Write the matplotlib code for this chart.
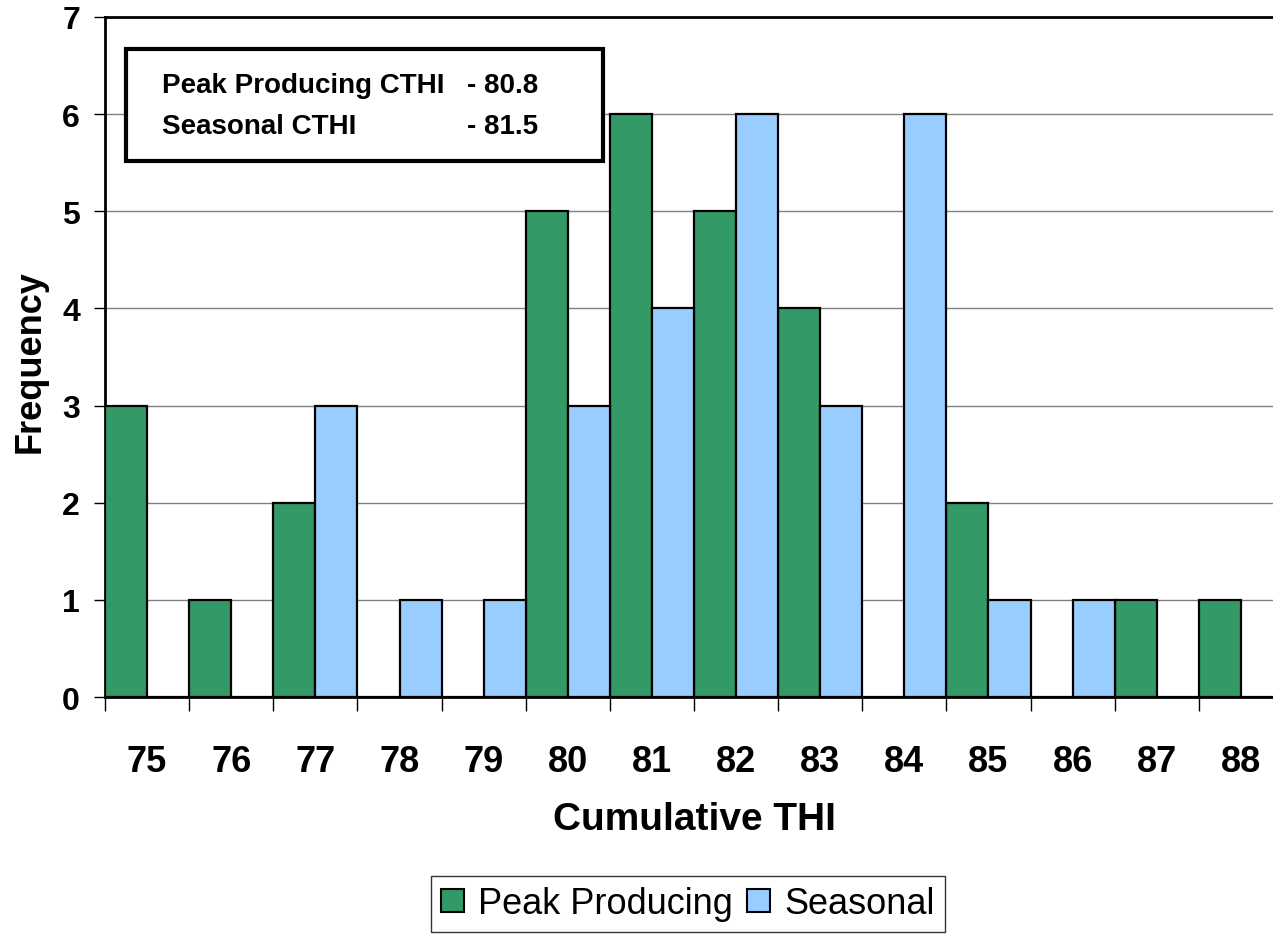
import numpy as np
import matplotlib.pyplot as plt
from matplotlib.patches import Rectangle, Patch

# Frequency of cumulative THI values for the two herd groups
thi_values = [75, 76, 77, 78, 79, 80, 81, 82, 83, 84, 85, 86, 87, 88]
peak_producing = [3, 1, 2, 0, 0, 5, 6, 5, 4, 0, 2, 0, 1, 1]
seasonal = [0, 0, 3, 1, 1, 3, 4, 6, 3, 6, 1, 1, 0, 0]
peak_cthi = 80.8
seasonal_cthi = 81.5

plt.rcParams['font.family'] = ['Liberation Sans', 'DejaVu Sans']

W, H = 1273, 937
fig = plt.figure(figsize=(W / 100, H / 100), dpi=100)
# plot area runs a little past the right edge of the figure
ax = fig.add_axes([105 / W, 1 - 698 / H, (1283 - 105) / W, (698 - 18) / H])

x = np.arange(len(thi_values))
ax.bar(x - 0.25, peak_producing, width=0.5, color='#339966',
       edgecolor='black', linewidth=1.6, zorder=3, label='Peak Producing')
ax.bar(x + 0.25, seasonal, width=0.5, color='#99CCFF',
       edgecolor='black', linewidth=1.6, zorder=3, label='Seasonal')

ax.set_xlim(-0.5, len(thi_values) - 0.5)
ax.set_ylim(0, 7)

# labels sit under the category centres, tick marks on the boundaries
ax.set_xticks(x)
ax.set_xticklabels([str(v) for v in thi_values], fontsize=26, fontweight='bold')
ax.tick_params(axis='x', which='major', length=0, pad=34)
ax.set_xticks(np.arange(len(thi_values) + 1) - 0.5, minor=True)
ax.tick_params(axis='x', which='minor', length=10, width=1, color='black',
               direction='out')

ax.set_yticks(range(8))
ax.set_yticklabels([str(v) for v in range(8)], fontsize=23, fontweight='bold')
ax.tick_params(axis='y', length=8, width=1, color='black', pad=10)

ax.grid(axis='y', color='#808080', linewidth=1, zorder=0)
ax.set_axisbelow(True)

for side in ['left', 'bottom', 'top']:
    ax.spines[side].set_linewidth(2)
    ax.spines[side].set_color('black')
ax.spines['right'].set_visible(False)

ax.set_xlabel('Cumulative THI', fontsize=28, fontweight='bold')
ax.xaxis.set_label_coords(0.5, -(820 - 698) / 680)
ax.xaxis.label.set_va('center')
ax.set_ylabel('Frequency', fontsize=26, fontweight='bold')
ax.yaxis.set_label_coords((30 - 105) / 1178, 0.495)
ax.yaxis.label.set_va('center')

# box with the mean cumulative THI of each group
box = Rectangle((126 / W, 1 - 162 / H), (603 - 126) / W, (162 - 50) / H,
                transform=fig.transFigure, facecolor='white', edgecolor='black',
                linewidth=3, zorder=5)
fig.add_artist(box)
fig.text(162 / W, 1 - 86 / H, 'Peak Producing CTHI', fontsize=20,
         fontweight='bold', va='center', ha='left', zorder=6)
fig.text(538 / W, 1 - 86 / H, f'- {peak_cthi}', fontsize=20,
         fontweight='bold', va='center', ha='right', zorder=6)
fig.text(162 / W, 1 - 127 / H, 'Seasonal CTHI', fontsize=20,
         fontweight='bold', va='center', ha='left', zorder=6)
fig.text(538 / W, 1 - 127 / H, f'- {seasonal_cthi}', fontsize=20,
         fontweight='bold', va='center', ha='right', zorder=6)

handles = [Patch(facecolor='#339966', edgecolor='black', linewidth=1.5),
           Patch(facecolor='#99CCFF', edgecolor='black', linewidth=1.5)]
leg = fig.legend(handles, ['Peak Producing', 'Seasonal'], ncol=2,
                 loc='center', bbox_to_anchor=(688 / W, 1 - 905 / H),
                 fontsize=26, frameon=True, fancybox=False,
                 handlelength=0.62, handleheight=0.62, handletextpad=0.4,
                 columnspacing=0.4, borderpad=0.3, borderaxespad=0)
leg.get_frame().set_edgecolor('black')
leg.get_frame().set_linewidth(1)

fig.savefig('out.png', dpi=100)
